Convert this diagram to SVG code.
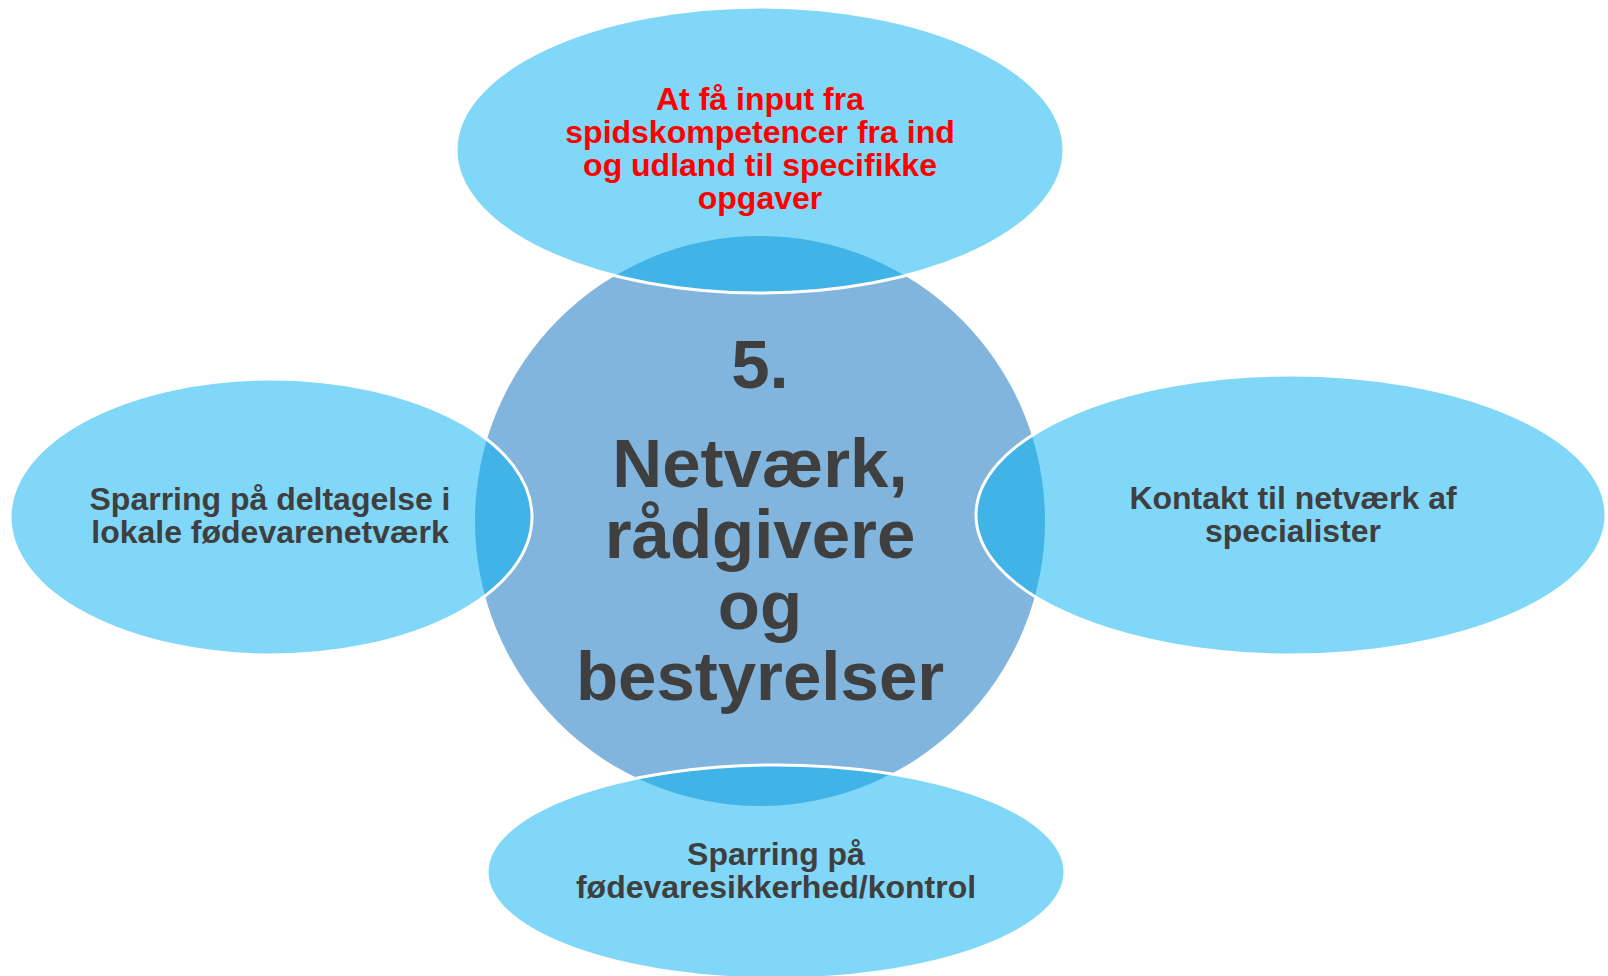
<svg xmlns="http://www.w3.org/2000/svg" width="1608" height="976" viewBox="0 0 1608 976">
<style>
.light{fill:#81D7F8;}
.dark{fill:#41B3E6;}
.rim{fill:none;stroke:#FFFFFF;stroke-width:3;}
.core{fill:#81B5DD;}
.t{font-family:"Liberation Sans",Arial,sans-serif;font-weight:bold;text-anchor:middle;}
.s{font-size:32px;fill:#3F3F3F;}
.red{font-size:32px;fill:#FF0000;}
.big{font-size:69px;fill:#3F3F3F;}
</style>
<defs>
<clipPath id="cc"><circle cx="760" cy="521" r="285"/></clipPath>
</defs>
<rect width="1608" height="976" fill="#FFFFFF"/>
<g id="center">
<circle class="core" cx="760" cy="521" r="285"/>
<text class="t big" x="760" y="388">5.</text>
<text class="t big" x="760" y="487">Netværk,</text>
<text class="t big" x="760" y="558">rådgivere</text>
<text class="t big" x="760" y="629">og</text>
<text class="t big" x="760" y="700">bestyrelser</text>
</g>
<g id="connectors"></g>
<g id="top">
<ellipse class="light" cx="760" cy="150" rx="304" ry="143"/>
<ellipse class="dark" cx="760" cy="150" rx="304" ry="143" clip-path="url(#cc)"/>
<ellipse class="rim" cx="760" cy="150" rx="304" ry="143"/>
<text class="t red" x="760" y="110">At få input fra</text>
<text class="t red" x="760" y="143">spidskompetencer fra ind</text>
<text class="t red" x="760" y="176">og udland til specifikke</text>
<text class="t red" x="760" y="209">opgaver</text>
</g>
<g id="left">
<ellipse class="light" cx="271" cy="517" rx="261" ry="138"/>
<ellipse class="dark" cx="271" cy="517" rx="261" ry="138" clip-path="url(#cc)"/>
<ellipse class="rim" cx="271" cy="517" rx="261" ry="138"/>
<text class="t s" x="270" y="510">Sparring på deltagelse i</text>
<text class="t s" x="270" y="543">lokale fødevarenetværk</text>
</g>
<g id="right">
<ellipse class="light" cx="1291" cy="515" rx="315" ry="140"/>
<ellipse class="dark" cx="1291" cy="515" rx="315" ry="140" clip-path="url(#cc)"/>
<ellipse class="rim" cx="1291" cy="515" rx="315" ry="140"/>
<text class="t s" x="1293" y="509">Kontakt til netværk af</text>
<text class="t s" x="1293" y="542">specialister</text>
</g>
<g id="bottom">
<ellipse class="light" cx="776" cy="872" rx="289" ry="107"/>
<ellipse class="dark" cx="776" cy="872" rx="289" ry="107" clip-path="url(#cc)"/>
<ellipse class="rim" cx="776" cy="872" rx="289" ry="107"/>
<text class="t s" x="776" y="865">Sparring på</text>
<text class="t s" x="776" y="898">fødevaresikkerhed/kontrol</text>
</g>
</svg>
